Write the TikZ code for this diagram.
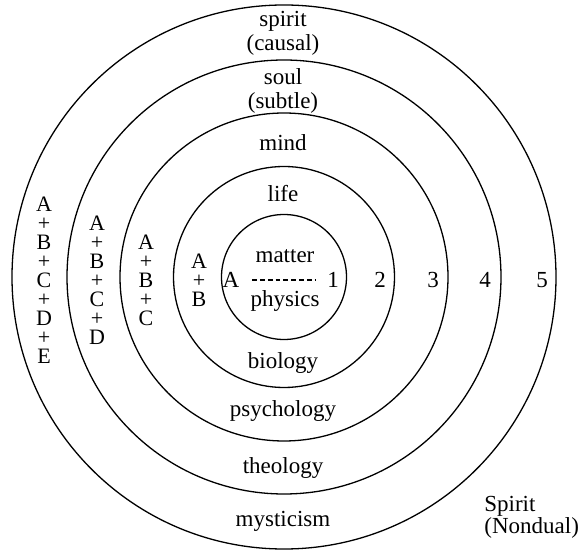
\documentclass[tikz,border=0pt]{standalone}
\usepackage{fontspec}
\setmainfont{Liberation Serif}
\usetikzlibrary{positioning}
\tikzset{
  ring/.style={draw=black, line width=0.65pt},
  ringtext/.style={font=\fontsize{11.5}{12}\selectfont, align=center, inner sep=0pt},
  stack/.style={font=\fontsize{11}{9.5}\selectfont, align=center, inner sep=0pt},
  levelnum/.style={font=\fontsize{11.5}{12}\selectfont, inner sep=1pt},
  nondual/.style={font=\fontsize{11.5}{11}\selectfont, align=left, inner sep=0pt, anchor=west},
  dashline/.style={line width=0.65pt, dash pattern=on 2.4pt off 1.5pt},
}

\begin{document}
\begin{tikzpicture}[x=0.5pt, y=-0.5pt]

  \useasboundingbox (0,0) rectangle (579,550);

  \coordinate (ctr) at (284,277);
  \foreach \r in {62.5,110.5,164,217,272}
    \draw[ring] (ctr) circle[radius=\r*0.5pt];

  \node[ringtext] (spirit) at (283,33) {spirit\\(causal)};
  \node[ringtext] (soul) at (283,91) {soul\\(subtle)};
  \node[ringtext] (mind) at (283,143) {mind};
  \node[ringtext] (life) at (283,194) {life};
  \node[ringtext] (matter) at (285,256) {matter};
  \node[ringtext] (physics) at (285,301) {physics};
  \node[ringtext] (biology) at (283,363) {biology};
  \node[ringtext] (psychology) at (283,411) {psychology};
  \node[ringtext] (theology) at (283,468) {theology};
  \node[ringtext] (mysticism) at (283,521) {mysticism};

  \node[levelnum] (a) at (231,280) {A};
  \node[levelnum] (one) at (333,280) {1};
  \node[levelnum] (two) at (380,280) {2};
  \node[levelnum] (three) at (433,280) {3};
  \node[levelnum] (four) at (485,280) {4};
  \node[levelnum] (five) at (542,280) {5};

  \node[stack] (ab) at (199,280) {A\\+\\B};
  \node[stack] (abc) at (146,280) {A\\+\\B\\+\\C};
  \node[stack] (abcd) at (97,280) {A\\+\\B\\+\\C\\+\\D};
  \node[stack] (abcde) at (44,280) {A\\+\\B\\+\\C\\+\\D\\+\\E};

  \node[nondual] (nondual) at (484,517) {Spirit\\(Nondual)};

  \draw[dashline, shorten <=5.25pt, shorten >=5pt] (a) -- (one);

\end{tikzpicture}
\end{document}
